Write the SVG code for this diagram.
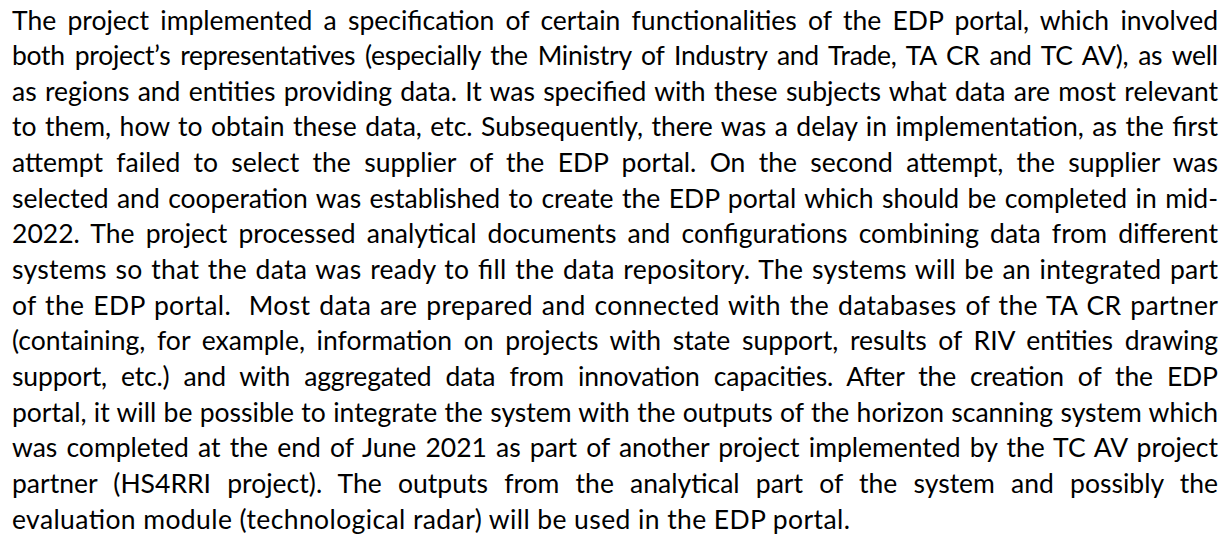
<svg xmlns="http://www.w3.org/2000/svg" width="1232" height="535" viewBox="0 0 1232 535">
<style>
text{font-family:Lato,"Liberation Sans",sans-serif;font-size:26.5px;fill:#000;white-space:pre}
</style>
<rect width="1232" height="535" fill="#fff"/>
<g id="paragraph">
<text x="12" y="29.5" word-spacing="4.5" textLength="1206" lengthAdjust="spacing">The project implemented a specification of certain functionalities of the EDP portal, which involved</text>
<text x="12" y="65.1" word-spacing="3.4" textLength="1206" lengthAdjust="spacing">both project’s representatives (especially the Ministry of Industry and Trade, TA CR and TC AV), as well</text>
<text x="12" y="100.8" word-spacing="1.5" textLength="1206" lengthAdjust="spacing">as regions and entities providing data. It was specified with these subjects what data are most relevant</text>
<text x="12" y="136.4" word-spacing="1.76" textLength="1206" lengthAdjust="spacing">to them, how to obtain these data, etc. Subsequently, there was a delay in implementation, as the first</text>
<text x="12" y="172.1" word-spacing="6.5" textLength="1206" lengthAdjust="spacing">attempt failed to select the supplier of the EDP portal. On the second attempt, the supplier was</text>
<text x="12" y="207.7" word-spacing="1.73" textLength="1206" lengthAdjust="spacing">selected and cooperation was established to create the EDP portal which should be completed in mid-</text>
<text x="12" y="243.3" word-spacing="4.4" textLength="1206" lengthAdjust="spacing">2022. The project processed analytical documents and configurations combining data from different</text>
<text x="12" y="279.0" word-spacing="1.55" textLength="1206" lengthAdjust="spacing">systems so that the data was ready to fill the data repository. The systems will be an integrated part</text>
<text x="12" y="314.6" word-spacing="1.72" textLength="1206" lengthAdjust="spacing">of the EDP portal.  Most data are prepared and connected with the databases of the TA CR partner</text>
<text x="12" y="350.3" word-spacing="4.85" textLength="1206" lengthAdjust="spacing">(containing, for example, information on projects with state support, results of RIV entities drawing</text>
<text x="12" y="385.9" word-spacing="7.4" textLength="1206" lengthAdjust="spacing">support, etc.) and with aggregated data from innovation capacities. After the creation of the EDP</text>
<text x="12" y="421.5" word-spacing="0.6" textLength="1206" lengthAdjust="spacing">portal, it will be possible to integrate the system with the outputs of the horizon scanning system which</text>
<text x="12" y="457.2" word-spacing="2.4" textLength="1206" lengthAdjust="spacing">was completed at the end of June 2021 as part of another project implemented by the TC AV project</text>
<text x="12" y="492.8" word-spacing="9.4" textLength="1206" lengthAdjust="spacing">partner (HS4RRI project). The outputs from the analytical part of the system and possibly the</text>
<text x="12" y="528.5" textLength="838" lengthAdjust="spacing">evaluation module (technological radar) will be used in the EDP portal.</text>
</g>
</svg>
